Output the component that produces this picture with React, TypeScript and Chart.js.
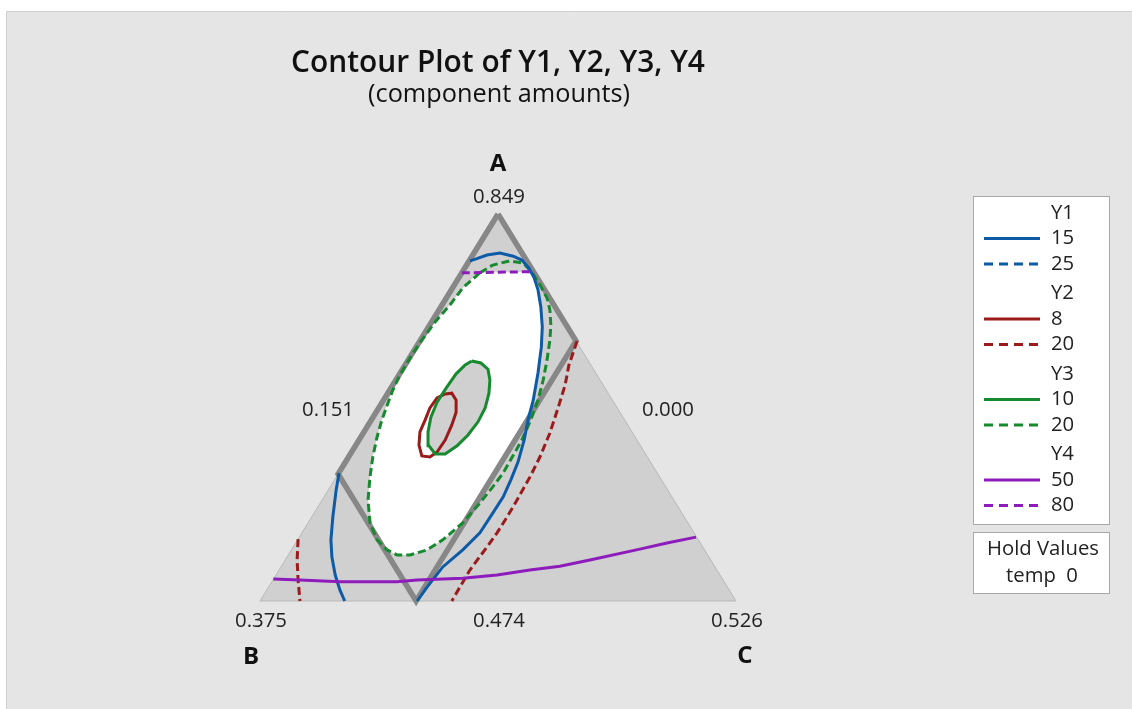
import { useEffect, useRef } from 'react';
import { Chart, registerables } from 'chart.js';

Chart.register(...registerables);

// ---------- DATA (normalized ternary plot coordinates: x along B→C, y = A fraction) ----------
const responses = ['Y1', 'Y2', 'Y3', 'Y4'];
const lowLevels = [15, 8, 10, 50];
const highLevels = [25, 20, 20, 80];
const vertexNames = ['A', 'B', 'C'];
const vertexValues = ['0.849', '0.375', '0.526'];
const edgeValues = ['0.151', '0.000', '0.474']; // A–B edge, A–C edge, B–C edge
const holdNames = ['temp'];
const holdValues = [0];
const plotTitle = 'Contour Plot of Y1, Y2, Y3, Y4';
const plotSubtitle = '(component amounts)';

const simplex: number[][] = [[0, 0], [1, 0], [0.5, 1], [0, 0]];
const designRegion: number[][] = [[0.5, 1], [0.664, 0.672], [0.328, 0], [0.164, 0.328], [0.5, 1]];

const y1Level15Main: number[][] = [
  [0.441, 0.879], [0.454, 0.884], [0.477, 0.894], [0.504, 0.899], [0.532, 0.891], [0.55, 0.881],
  [0.565, 0.86], [0.576, 0.835], [0.584, 0.804], [0.59, 0.76], [0.593, 0.708], [0.591, 0.656],
  [0.584, 0.589], [0.574, 0.519], [0.563, 0.468], [0.555, 0.416], [0.542, 0.359], [0.527, 0.313],
  [0.511, 0.269], [0.489, 0.227], [0.462, 0.176], [0.426, 0.132], [0.384, 0.088], [0.351, 0.036], [0.33, 0],
];
const y1Level15Left: number[][] = [
  [0.166, 0.331], [0.16, 0.287], [0.153, 0.217], [0.149, 0.158], [0.151, 0.114], [0.158, 0.067], [0.168, 0.028], [0.178, 0],
];
const y2Level8: number[][] = [
  [0.389, 0.535], [0.403, 0.537], [0.412, 0.519], [0.412, 0.488], [0.403, 0.455], [0.389, 0.416],
  [0.372, 0.385], [0.357, 0.372], [0.34, 0.375], [0.334, 0.403], [0.336, 0.437], [0.347, 0.468],
  [0.357, 0.499], [0.372, 0.525], [0.389, 0.535],
];
const y2Level20Right: number[][] = [
  [0.666, 0.672], [0.66, 0.649], [0.649, 0.61], [0.641, 0.558], [0.628, 0.506], [0.609, 0.434],
  [0.588, 0.372], [0.567, 0.32], [0.54, 0.261], [0.519, 0.217], [0.498, 0.176], [0.477, 0.14],
  [0.441, 0.08], [0.42, 0.036], [0.403, 0],
];
const y2Level20Left: number[][] = [[0.08, 0.16], [0.078, 0.106], [0.08, 0.054], [0.084, 0]];
const y3Level10: number[][] = [
  [0.445, 0.62], [0.464, 0.615], [0.479, 0.599], [0.483, 0.571], [0.481, 0.537], [0.473, 0.499],
  [0.458, 0.463], [0.437, 0.429], [0.414, 0.401], [0.389, 0.38], [0.368, 0.38], [0.355, 0.401],
  [0.353, 0.437], [0.359, 0.475], [0.372, 0.514], [0.391, 0.55], [0.412, 0.587], [0.431, 0.61], [0.445, 0.62],
];
const y3Level20: number[][] = [
  [0.462, 0.848], [0.489, 0.868], [0.525, 0.879], [0.553, 0.873], [0.571, 0.85], [0.588, 0.817],
  [0.603, 0.783], [0.609, 0.752], [0.611, 0.713], [0.609, 0.674], [0.603, 0.623], [0.595, 0.571],
  [0.584, 0.519], [0.569, 0.468], [0.55, 0.416], [0.529, 0.37], [0.511, 0.331], [0.489, 0.295],
  [0.462, 0.253], [0.426, 0.202], [0.384, 0.158], [0.351, 0.132], [0.315, 0.119], [0.288, 0.119],
  [0.267, 0.132], [0.246, 0.158], [0.231, 0.202], [0.227, 0.261], [0.231, 0.32], [0.237, 0.372],
  [0.246, 0.424], [0.256, 0.468], [0.269, 0.512], [0.279, 0.545], [0.294, 0.584], [0.315, 0.628],
  [0.34, 0.674], [0.368, 0.721], [0.399, 0.765], [0.426, 0.809], [0.462, 0.848],
];
const y4Level50: number[][] = [
  [0.028, 0.057], [0.084, 0.054], [0.168, 0.05], [0.288, 0.05], [0.33, 0.054], [0.426, 0.059],
  [0.498, 0.067], [0.567, 0.08], [0.63, 0.09], [0.693, 0.106], [0.798, 0.134], [0.855, 0.15], [0.916, 0.165],
];
const y4Level80: number[][] = [[0.424, 0.848], [0.576, 0.851]];
const feasibleRegion: number[][] = [
  [0.458, 0.848], [0.567, 0.85], [0.576, 0.835], [0.584, 0.804], [0.59, 0.76], [0.593, 0.708],
  [0.591, 0.656], [0.584, 0.589], [0.574, 0.519], [0.563, 0.468], [0.429, 0.202], [0.384, 0.158],
  [0.351, 0.132], [0.315, 0.119], [0.288, 0.119], [0.267, 0.132], [0.252, 0.155], [0.235, 0.202],
  [0.227, 0.261], [0.231, 0.32], [0.237, 0.372], [0.246, 0.424], [0.256, 0.468], [0.269, 0.512],
  [0.279, 0.545], [0.294, 0.584], [0.315, 0.628], [0.34, 0.674], [0.368, 0.721], [0.399, 0.765],
  [0.426, 0.809], [0.458, 0.848],
];

// ---------- STYLE ----------
const COLORS = ['#0d5aa6', '#9a1b1b', '#17892e', '#8e1cbc'];
const PAGE_BG = '#e5e5e5';
const TRI_FILL = '#d0d0d0';
const OUTLINE = '#878787';
const FONT = '"Open Sans", "Noto Sans", sans-serif';
const DASH = [8, 4];
const LEGEND_DASH = [9, 6];

const toXY = (pts: number[][]) => pts.map(([x, y]) => ({ x, y }));

function lineDs(pts: number[][], color: string, dashed: boolean, extra: any = {}) {
  return {
    data: toXY(pts),
    borderColor: color,
    borderWidth: 3,
    borderDash: dashed ? DASH : [],
    pointRadius: 0,
    pointHoverRadius: 0,
    fill: false,
    tension: 0,
    clip: false,
    ...extra,
  };
}

function buildDatasets() {
  const list: any[] = [
    lineDs(simplex, '#b9b9b9', false, { borderWidth: 1, fill: 'shape', backgroundColor: TRI_FILL }),
    lineDs(feasibleRegion, 'rgba(0,0,0,0)', false, { borderWidth: 0, fill: 'shape', backgroundColor: '#ffffff' }),
    lineDs(y3Level10, 'rgba(0,0,0,0)', false, { borderWidth: 0, fill: 'shape', backgroundColor: TRI_FILL }),
    lineDs(designRegion, OUTLINE, false, { borderWidth: 5.5, borderJoinStyle: 'miter' }),
    lineDs(y2Level8, COLORS[1], false),
    lineDs(y2Level20Right, COLORS[1], true),
    lineDs(y2Level20Left, COLORS[1], true),
    lineDs(y3Level20, COLORS[2], true),
    lineDs(y3Level10, COLORS[2], false),
    lineDs(y1Level15Main, COLORS[0], false),
    lineDs(y1Level15Left, COLORS[0], false),
    lineDs(y4Level50, COLORS[3], false),
    lineDs(y4Level80, COLORS[3], true),
  ];
  return list.map((d, i) => ({ ...d, order: list.length - i }));
}

function fitSize(ctx: CanvasRenderingContext2D, text: string, width: number, weight: string) {
  ctx.font = `${weight} 100px ${FONT}`;
  return (100 * width) / ctx.measureText(text).width;
}

const decorPlugin = {
  id: 'decor',
  beforeDraw(chart: any) {
    const ctx: CanvasRenderingContext2D = chart.ctx;
    ctx.save();
    ctx.fillStyle = '#ffffff';
    ctx.fillRect(0, 0, chart.width, chart.height);
    ctx.fillStyle = PAGE_BG;
    ctx.fillRect(6, 11, chart.width - 6, chart.height - 11);
    ctx.strokeStyle = '#cfcfcf';
    ctx.lineWidth = 1;
    ctx.beginPath();
    ctx.moveTo(6.5, chart.height);
    ctx.lineTo(6.5, 11.5);
    ctx.lineTo(chart.width, 11.5);
    ctx.stroke();
    ctx.restore();
  },
  afterDraw(chart: any) {
    const ctx: CanvasRenderingContext2D = chart.ctx;
    const xs = chart.scales.x;
    const ys = chart.scales.y;
    const px = (x: number) => xs.getPixelForValue(x);
    const py = (y: number) => ys.getPixelForValue(y);
    ctx.save();
    ctx.fillStyle = '#111111';
    ctx.textAlign = 'center';
    ctx.textBaseline = 'alphabetic';

    // titles
    const ts = fitSize(ctx, plotTitle, 414, '600');
    ctx.font = `600 ${ts}px ${FONT}`;
    ctx.fillText(plotTitle, 498, 72);
    const ss = fitSize(ctx, plotSubtitle, 262, '400');
    ctx.font = `400 ${ss}px ${FONT}`;
    ctx.fillText(plotSubtitle, 499, 102);

    // vertex & edge labels
    const ns = fitSize(ctx, vertexValues[0], 52, '400');
    ctx.font = `400 ${ns}px ${FONT}`;
    ctx.fillStyle = '#222222';
    const top = { x: px(0.5), y: py(1) };
    const bl = { x: px(0), y: py(0) };
    const br = { x: px(1), y: py(0) };
    ctx.fillText(vertexValues[0], top.x + 1, top.y - 11);
    ctx.fillText(vertexValues[1], bl.x + 1, bl.y + 26);
    ctx.fillText(vertexValues[2], br.x + 1, br.y + 26);
    ctx.fillText(edgeValues[0], (top.x + bl.x) / 2 - 51, (top.y + bl.y) / 2 + 8);
    ctx.fillText(edgeValues[1], (top.x + br.x) / 2 + 51, (top.y + br.y) / 2 + 8);
    ctx.fillText(edgeValues[2], (bl.x + br.x) / 2 + 1, bl.y + 26);

    ctx.fillStyle = '#111111';
    ctx.font = `700 24px ${FONT}`;
    ctx.fillText(vertexNames[0], top.x, top.y - 43);
    ctx.fillText(vertexNames[1], bl.x - 9, bl.y + 63);
    ctx.fillText(vertexNames[2], br.x + 9, br.y + 62);

    // legend
    const lx = 973.5, lw = 136;
    ctx.fillStyle = '#ffffff';
    ctx.strokeStyle = '#a8a8a8';
    ctx.lineWidth = 1;
    ctx.fillRect(lx, 196.5, lw, 328);
    ctx.strokeRect(lx, 196.5, lw, 328);
    ctx.fillRect(lx, 532.5, lw, 61);
    ctx.strokeRect(lx, 532.5, lw, 61);

    const ls = fitSize(ctx, 'Hold Values', 112, '400');
    ctx.font = `400 ${ls}px ${FONT}`;
    ctx.textBaseline = 'middle';
    let yy = 213;
    responses.forEach((name, i) => {
      ctx.fillStyle = '#222222';
      ctx.textAlign = 'left';
      ctx.fillText(name, 1051, yy);
      const levels = [lowLevels[i], highLevels[i]];
      levels.forEach((lev, j) => {
        const ly = yy + 25.5 * (j + 1);
        ctx.strokeStyle = COLORS[i];
        ctx.lineWidth = 3;
        ctx.setLineDash(j === 0 ? [] : LEGEND_DASH);
        ctx.beginPath();
        ctx.moveTo(984, ly);
        ctx.lineTo(1040, ly);
        ctx.stroke();
        ctx.setLineDash([]);
        ctx.fillStyle = '#222222';
        ctx.fillText(String(lev), 1051, ly);
      });
      yy += 80.5;
    });
    ctx.textAlign = 'center';
    ctx.fillStyle = '#222222';
    ctx.fillText('Hold Values', 1043, 549);
    ctx.fillText(`${holdNames[0]}  ${holdValues[0]}`, 1042, 576);
    ctx.restore();
  },
};

export default function App() {
  const ref = useRef<HTMLCanvasElement>(null);
  useEffect(() => {
    const canvas = ref.current;
    if (!canvas) return;
    const chart = new Chart(canvas, {
      type: 'line',
      data: { datasets: buildDatasets() },
      options: {
        animation: false,
        responsive: false,
        devicePixelRatio: 1,
        events: [],
        layout: { padding: { left: 260, right: 1132 - 736, top: 214, bottom: 709 - 601 } },
        scales: {
          x: { type: 'linear', min: 0, max: 1, display: false },
          y: { type: 'linear', min: 0, max: 1, display: false },
        },
        plugins: {
          legend: { display: false },
          tooltip: { enabled: false },
          title: { display: false },
        },
      },
      plugins: [decorPlugin],
    } as any);
    return () => chart.destroy();
  }, []);
  return (
    <div style={{ position: 'absolute', left: 0, top: 0, width: 1132, height: 709 }}>
      <canvas ref={ref} width={1132} height={709} style={{ display: 'block', width: 1132, height: 709 }} />
    </div>
  );
}
